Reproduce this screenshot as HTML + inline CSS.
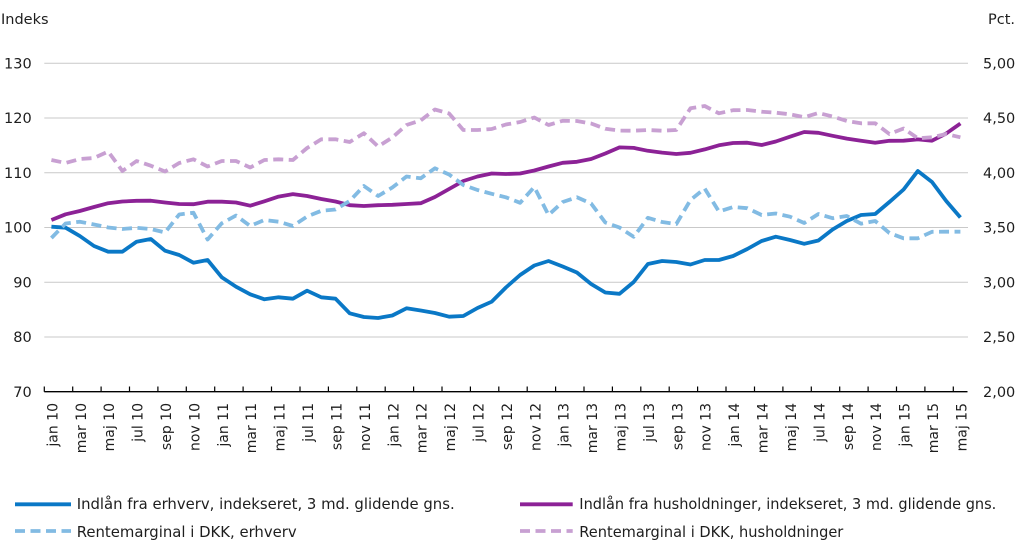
<!DOCTYPE html>
<html><head><meta charset="utf-8"><style>
html,body{margin:0;padding:0;background:#fff;}
svg{display:block;}
text{font-family:"DejaVu Sans","Liberation Sans",sans-serif;fill:#1e1e1e;}
</style></head><body>
<svg width="1019" height="545" viewBox="0 0 1019 545" xmlns="http://www.w3.org/2000/svg">
<rect width="1019" height="545" fill="#fff"/>
<!-- gridlines -->
<g stroke="#c9c9c9" stroke-width="1">
<line x1="44.3" y1="63.3" x2="968" y2="63.3"/>
<line x1="44.3" y1="118.0" x2="968" y2="118.0"/>
<line x1="44.3" y1="172.8" x2="968" y2="172.8"/>
<line x1="44.3" y1="227.5" x2="968" y2="227.5"/>
<line x1="44.3" y1="282.2" x2="968" y2="282.2"/>
<line x1="44.3" y1="337.0" x2="968" y2="337.0"/>
</g>
<!-- axis -->
<line x1="44.3" y1="391.7" x2="967.5" y2="391.7" stroke="#000" stroke-width="1.3"/>
<path d="M44.3 391.7V386.5M72.7 391.7V386.5M101.1 391.7V386.5M129.5 391.7V386.5M157.9 391.7V386.5M186.3 391.7V386.5M214.7 391.7V386.5M243.1 391.7V386.5M271.5 391.7V386.5M300 391.7V386.5M328.4 391.7V386.5M356.8 391.7V386.5M385.2 391.7V386.5M413.6 391.7V386.5M442 391.7V386.5M470.4 391.7V386.5M498.8 391.7V386.5M527.2 391.7V386.5M555.6 391.7V386.5M584 391.7V386.5M612.4 391.7V386.5M640.8 391.7V386.5M669.2 391.7V386.5M697.6 391.7V386.5M726 391.7V386.5M754.5 391.7V386.5M782.9 391.7V386.5M811.3 391.7V386.5M839.7 391.7V386.5M868.1 391.7V386.5M896.5 391.7V386.5M924.9 391.7V386.5M953.3 391.7V386.5" stroke="#000" stroke-width="1.2" fill="none"/>

<!-- axis titles -->
<text x="1" y="24" font-size="14.5">Indeks</text>
<text x="1015" y="24" font-size="14.5" text-anchor="end">Pct.</text>

<!-- left labels -->
<g font-size="14.5" text-anchor="end">
<text x="31.7" y="68.5">130</text>
<text x="31.7" y="123.2">120</text>
<text x="31.7" y="178">110</text>
<text x="31.7" y="232.7">100</text>
<text x="31.7" y="287.4">90</text>
<text x="31.7" y="342.2">80</text>
<text x="31.7" y="396.9">70</text>
</g>
<!-- right labels -->
<g font-size="14.5">
<text x="983" y="68.5">5,00</text>
<text x="983" y="123.2">4,50</text>
<text x="983" y="178">4,00</text>
<text x="983" y="232.7">3,50</text>
<text x="983" y="287.4">3,00</text>
<text x="983" y="342.2">2,50</text>
<text x="983" y="396.9">2,00</text>
</g>

<!-- x labels -->
<g font-size="14" text-anchor="end">
<text transform="translate(57.4,403) rotate(-90)">jan 10</text>
<text transform="translate(85.8,403) rotate(-90)">mar 10</text>
<text transform="translate(114.2,403) rotate(-90)">maj 10</text>
<text transform="translate(142.6,403) rotate(-90)">jul 10</text>
<text transform="translate(171,403) rotate(-90)">sep 10</text>
<text transform="translate(199.4,403) rotate(-90)">nov 10</text>
<text transform="translate(227.8,403) rotate(-90)">jan 11</text>
<text transform="translate(256.2,403) rotate(-90)">mar 11</text>
<text transform="translate(284.6,403) rotate(-90)">maj 11</text>
<text transform="translate(313.1,403) rotate(-90)">jul 11</text>
<text transform="translate(341.5,403) rotate(-90)">sep 11</text>
<text transform="translate(369.9,403) rotate(-90)">nov 11</text>
<text transform="translate(398.3,403) rotate(-90)">jan 12</text>
<text transform="translate(426.7,403) rotate(-90)">mar 12</text>
<text transform="translate(455.1,403) rotate(-90)">maj 12</text>
<text transform="translate(483.5,403) rotate(-90)">jul 12</text>
<text transform="translate(511.9,403) rotate(-90)">sep 12</text>
<text transform="translate(540.3,403) rotate(-90)">nov 12</text>
<text transform="translate(568.7,403) rotate(-90)">jan 13</text>
<text transform="translate(597.1,403) rotate(-90)">mar 13</text>
<text transform="translate(625.5,403) rotate(-90)">maj 13</text>
<text transform="translate(653.9,403) rotate(-90)">jul 13</text>
<text transform="translate(682.3,403) rotate(-90)">sep 13</text>
<text transform="translate(710.7,403) rotate(-90)">nov 13</text>
<text transform="translate(739.1,403) rotate(-90)">jan 14</text>
<text transform="translate(767.6,403) rotate(-90)">mar 14</text>
<text transform="translate(796,403) rotate(-90)">maj 14</text>
<text transform="translate(824.4,403) rotate(-90)">jul 14</text>
<text transform="translate(852.8,403) rotate(-90)">sep 14</text>
<text transform="translate(881.2,403) rotate(-90)">nov 14</text>
<text transform="translate(909.6,403) rotate(-90)">jan 15</text>
<text transform="translate(938,403) rotate(-90)">mar 15</text>
<text transform="translate(966.4,403) rotate(-90)">maj 15</text>
</g>

<!-- series -->
<g fill="none" stroke-linejoin="round" stroke-width="3.8">
<polyline stroke="#0a78c6" points="51.4,226.7 65.6,227.7 79.8,236 94,246 108.2,251.7 122.4,251.7 136.6,241.7 150.8,239 165,250.7 179.2,255 193.4,262.7 207.6,260 221.8,277.3 236,286.7 250.2,294.3 264.4,299.3 278.6,297.3 292.9,298.7 307.1,290.7 321.3,297.3 335.5,298.7 349.7,313.3 363.9,317 378.1,318 392.3,315.5 406.5,308.3 420.7,310.5 434.9,313 449.1,316.7 463.3,316 477.5,308 491.7,301.7 505.9,287.5 520.1,275 534.3,265.5 548.5,261 562.7,266.5 576.9,272.5 591.1,284 605.3,292.5 619.5,293.8 633.7,282 647.9,264 662.1,261 676.3,262 690.5,264.5 704.7,260 718.9,260 733.1,256 747.3,249 761.6,241 775.8,236.7 790,240 804.2,243.8 818.4,240.5 832.6,229.5 846.8,221 861,215 875.2,214 889.4,202 903.6,189.5 917.8,171 932,182 946.2,201 960.4,217.5"/>
<polyline stroke="#8c2296" points="51.4,220 65.6,214.3 79.8,211 94,207 108.2,203.2 122.4,201.5 136.6,200.8 150.8,200.7 165,202.5 179.2,204 193.4,204.2 207.6,201.7 221.8,201.7 236,202.5 250.2,205.7 264.4,201.3 278.6,196.6 292.9,194.1 307.1,196 321.3,199 335.5,201.5 349.7,205.2 363.9,206 378.1,205.2 392.3,204.8 406.5,204 420.7,203.2 434.9,197 449.1,189 463.3,181 477.5,176.5 491.7,173.5 505.9,174 520.1,173.5 534.3,170.5 548.5,166.5 562.7,162.8 576.9,161.8 591.1,159 605.3,153.5 619.5,147.4 633.7,147.9 647.9,150.8 662.1,152.6 676.3,154 690.5,152.8 704.7,149.4 718.9,145.3 733.1,143 747.3,142.7 761.6,145 775.8,141.5 790,136.7 804.2,132 818.4,132.8 832.6,135.8 846.8,138.6 861,140.8 875.2,142.7 889.4,140.8 903.6,140.7 917.8,139.4 932,140.7 946.2,133.5 960.4,123.5"/>
<polyline stroke="#82bbe3" stroke-dasharray="10 5.5" points="51.4,238 65.6,223.5 79.8,221.7 94,224.5 108.2,227.5 122.4,229 136.6,227.8 150.8,229 165,232.5 179.2,214.5 193.4,212.7 207.6,239.5 221.8,223.3 236,215.5 250.2,226 264.4,220 278.6,221.7 292.9,226 307.1,216.5 321.3,210.8 335.5,209.5 349.7,201 363.9,186 378.1,196 392.3,187.5 406.5,176.5 420.7,178.3 434.9,168.3 449.1,174.5 463.3,185 477.5,190 491.7,193.8 505.9,197.3 520.1,202.8 534.3,187 548.5,215 562.7,202 576.9,197.3 591.1,203.5 605.3,222.5 619.5,227.5 633.7,236.8 647.9,217.8 662.1,222 676.3,224 690.5,200 704.7,188.5 718.9,211.5 733.1,207 747.3,208.2 761.6,215 775.8,213.5 790,216.7 804.2,223 818.4,214 832.6,218.2 846.8,216 861,223.7 875.2,221 889.4,233 903.6,238.3 917.8,238.3 932,231.8 946.2,231.7 960.4,231.7"/>
<polyline stroke="#c8a0d2" stroke-dasharray="10 5.5" points="51.4,160 65.6,163 79.8,159 94,158 108.2,151.5 122.4,171 136.6,161 150.8,165.7 165,171.5 179.2,163 193.4,159.3 207.6,166.5 221.8,161 236,161 250.2,167.5 264.4,160 278.6,159.3 292.9,160 307.1,148 321.3,139.3 335.5,139.3 349.7,142 363.9,133.2 378.1,146.5 392.3,137.5 406.5,125 420.7,120.5 434.9,109.5 449.1,113.5 463.3,130 477.5,130 491.7,129 505.9,124.5 520.1,122 534.3,117.5 548.5,125 562.7,120.8 576.9,121 591.1,123.5 605.3,128.8 619.5,130.6 633.7,130.7 647.9,130 662.1,130.7 676.3,130 690.5,108.3 704.7,106 718.9,113.3 733.1,110.2 747.3,110 761.6,111.7 775.8,112.7 790,114.3 804.2,117.2 818.4,113 832.6,116.5 846.8,121 861,123.3 875.2,123.3 889.4,134 903.6,128.5 917.8,138.3 932,137.3 946.2,134 960.4,137.3"/>
</g>

<!-- legend -->
<g stroke-width="3.8" fill="none">
<line x1="15" y1="504.3" x2="71" y2="504.3" stroke="#0a78c6"/>
<line x1="15" y1="531" x2="71" y2="531" stroke="#82bbe3" stroke-dasharray="10 5.5"/>
<line x1="520" y1="504.3" x2="572.7" y2="504.3" stroke="#8c2296"/>
<line x1="520" y1="531" x2="572.7" y2="531" stroke="#c8a0d2" stroke-dasharray="10 5.5"/>
</g>
<g font-size="15">
<text x="76.7" y="509" textLength="378" lengthAdjust="spacingAndGlyphs">Indlån fra erhverv, indekseret, 3 md. glidende gns.</text>
<text x="76.7" y="537" textLength="220" lengthAdjust="spacingAndGlyphs">Rentemarginal i DKK, erhverv</text>
<text x="579.3" y="509" textLength="417" lengthAdjust="spacingAndGlyphs">Indlån fra husholdninger, indekseret, 3 md. glidende gns.</text>
<text x="579.3" y="537" textLength="264" lengthAdjust="spacingAndGlyphs">Rentemarginal i DKK, husholdninger</text>
</g>
</svg>
</body></html>
